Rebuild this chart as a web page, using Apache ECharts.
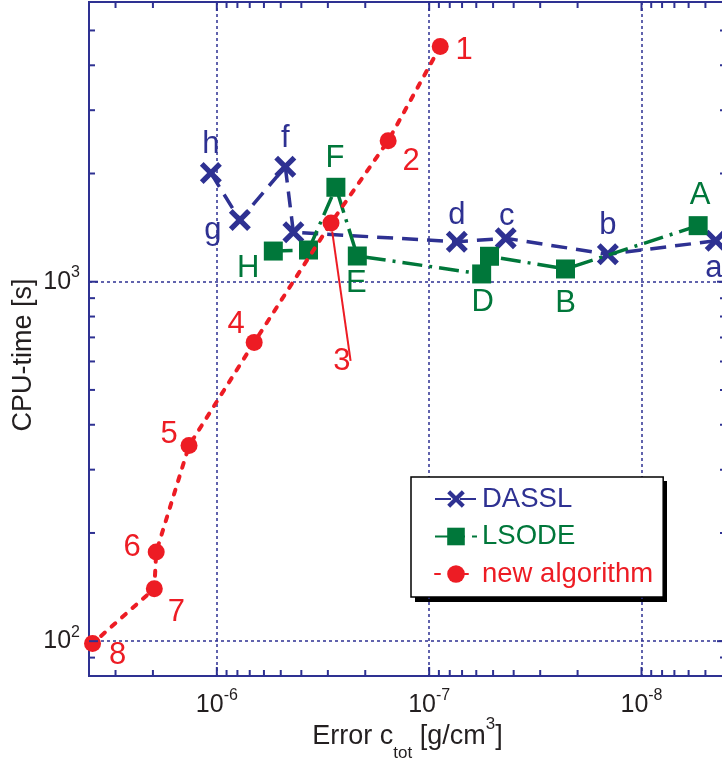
<!DOCTYPE html>
<html>
<head>
<meta charset="utf-8">
<script src="https://cdn.jsdelivr.net/npm/echarts@6/dist/echarts.min.js"></script>
<style>
  html, body { margin: 0; padding: 0; background: #fff; }
  #chart { width: 722px; height: 762px; }
</style>
</head>
<body>
<div id="chart"></div>
<script>
// DASSL, points a..h
const dasslErr = [4.47e-9, 1.44e-8, 4.36e-8, 7.41e-8, 4.36e-7, 4.76e-7, 7.79e-7, 1.067e-6];
const dasslCpu = [1300, 1192, 1321, 1292, 1372, 2089, 1485, 2006];
const dasslNames = ['a', 'b', 'c', 'd', '', 'f', 'g', 'h'];

// LSODE, points A..H
const lsodeErr = [5.41e-9, 2.28e-8, 5.20e-8, 5.66e-8, 2.18e-7, 2.75e-7, 3.70e-7, 5.42e-7];
const lsodeCpu = [1432, 1085, 1177, 1051, 1179, 1831, 1225, 1217];
const lsodeNames = ['A', 'B', '', 'D', 'E', 'F', '', 'H'];

// new algorithm, points 1..8
const newErr = [8.87e-8, 1.56e-7, 2.90e-7, 6.67e-7, 1.352e-6, 1.93e-6, 1.97e-6, 3.85e-6];
const newCpu = [4510, 2466, 1457, 678, 350, 177, 140, 98.5];
const newNames = ['1', '2', '3', '4', '5', '6', '7', '8'];

// axis ticks
const xMajorTicks = [1e-8, 1e-7, 1e-6];
const xMinorTicks = [5e-9, 6e-9, 7e-9, 8e-9, 9e-9,
  2e-8, 3e-8, 4e-8, 5e-8, 6e-8, 7e-8, 8e-8, 9e-8,
  2e-7, 3e-7, 4e-7, 5e-7, 6e-7, 7e-7, 8e-7, 9e-7,
  2e-6, 3e-6];
const yMajorTicks = [100, 1000];
const yMinorTicks = [90, 200, 300, 400, 500, 600, 700, 800, 900, 2000, 3000, 4000, 5000];

// label placement (offset from the point, px)
const dasslLabelOffsets = [[-2, 28], [0, -29], [1, -22], [0, -26], [0, 0], [0, -28], [-27, 10], [0, -29]];
const lsodeLabelOffsets = [[2, -30], [0, 34], [0, 0], [1, 29], [-1, 27], [-1, -29], [0, 0], [-25, 17]];
const newLabelOffsets = [[24, 4], [23, 21], [11, 138], [-18, -18], [-20, -11], [-24, -5], [22, 24], [25, 12]];

const BLUE = '#2e3192';
const GREEN = '#00773a';
const RED = '#ed1c24';
const TEXT = '#231f20';
const FONT = '"Liberation Sans", Arial, Helvetica, sans-serif';
const X_PATH = 'path://M1.7,0 L5,3.3 L8.3,0 L10,1.7 L6.7,5 L10,8.3 L8.3,10 L5,6.7 L1.7,10 L0,8.3 L3.3,5 L0,1.7 Z';

function pointData (errs, cpus, names, offsets, color) {
  return errs.map((e, i) => ({
    value: [e, cpus[i]],
    label: {
      show: names[i] !== '',
      formatter: names[i],
      position: 'inside',
      offset: offsets[i],
      color: color,
      fontSize: 31,
      fontFamily: FONT
    }
  }))
}

function powLabel (value) {
  const l = Math.log10(value)
  const e = Math.round(l)
  if (Math.abs(l - e) > 1e-6) return ''
  return '{b|10}{s|' + e + '}'
}

const tickRich = {
  b: { fontSize: 25, fontFamily: FONT, color: TEXT },
  s: { fontSize: 16, fontFamily: FONT, color: TEXT, padding: [0, 0, 18, 0] }
}

function xTick (params, api) {
  const cs = params.coordSys
  const x = api.coord([api.value(0), 1000])[0]
  const len = api.value(2)
  const style = { stroke: BLUE, lineWidth: 2 }
  return {
    type: 'group',
    children: [
      { type: 'line', shape: { x1: x, y1: cs.y + cs.height, x2: x, y2: cs.y + cs.height - len }, style },
      { type: 'line', shape: { x1: x, y1: cs.y, x2: x, y2: cs.y + len }, style }
    ]
  }
}

function yTick (params, api) {
  const cs = params.coordSys
  const y = api.coord([1e-7, api.value(1)])[1]
  const len = api.value(2)
  const style = { stroke: BLUE, lineWidth: 2 }
  return {
    type: 'group',
    children: [
      { type: 'line', shape: { x1: cs.x, y1: y, x2: cs.x + len, y2: y }, style },
      { type: 'line', shape: { x1: cs.x + cs.width, y1: y, x2: cs.x + cs.width - len, y2: y }, style }
    ]
  }
}

const chart = echarts.init(document.getElementById('chart'))

const newPoints = pointData(newErr, newCpu, newNames, newLabelOffsets, RED)
newPoints[2].labelLine = { show: true, lineStyle: { color: RED, width: 2 } }

const option = {
  animation: false,
  grid: {
    left: 89, right: -4, top: 2, bottom: 86,
    outerBoundsMode: 'none',
    show: true, borderColor: BLUE, borderWidth: 2, backgroundColor: 'transparent'
  },
  // hard black shadow behind the legend box
  graphic: [{
    type: 'rect', left: 415, top: 481, z: 0,
    shape: { width: 252, height: 121 },
    style: { fill: '#000' }
  }],
  legend: {
    left: 411, top: 477,
    orient: 'vertical',
    data: [
      { name: 'DASSL', textStyle: { color: BLUE } },
      { name: 'LSODE', textStyle: { color: GREEN } },
      { name: 'new algorithm', textStyle: { color: RED } }
    ],
    itemWidth: 42, itemHeight: 22, itemGap: 9.5,
    padding: [8, 10, 9, 23],
    backgroundColor: '#fff', borderColor: '#000', borderWidth: 1.5,
    textStyle: { fontSize: 27.5, fontFamily: FONT }
  },
  xAxis: {
    type: 'log', logBase: 10, min: 4e-9, max: 4e-6, inverse: true,
    axisLine: { show: false }, axisTick: { show: false },
    splitLine: { show: true, showMinLine: false, showMaxLine: false, lineStyle: { color: BLUE, width: 1.5, type: [3, 3] } },
    axisLabel: { formatter: powLabel, margin: 12, rich: tickRich, showMinLabel: false, showMaxLabel: false },
    name: '{n|Error c}{sub|tot}{n| [g/cm}{sup|3}{n|]}',
    nameLocation: 'middle', nameGap: 61, nameMoveOverlap: false,
    nameTextStyle: {
      verticalAlign: 'middle',
      rich: {
        n: { fontSize: 27, fontFamily: FONT, color: TEXT, verticalAlign: 'middle' },
        sub: { fontSize: 17, fontFamily: FONT, color: TEXT, verticalAlign: 'middle', padding: [32, 0, 0, 0] },
        sup: { fontSize: 17, fontFamily: FONT, color: TEXT, verticalAlign: 'middle', padding: [0, 0, 26, 0] }
      }
    }
  },
  yAxis: {
    type: 'log', logBase: 10, min: 80, max: 6000,
    axisLine: { show: false }, axisTick: { show: false },
    splitLine: { show: true, showMinLine: false, showMaxLine: false, lineStyle: { color: BLUE, width: 1.5, type: [3, 3] } },
    axisLabel: { formatter: powLabel, margin: 9, rich: tickRich, showMinLabel: false, showMaxLabel: false },
    name: 'CPU-time [s]',
    nameLocation: 'middle', nameGap: 65, nameMoveOverlap: false,
    nameTextStyle: { fontSize: 27, fontFamily: FONT, color: TEXT, verticalAlign: 'middle', padding: [0, 32, 0, 0] }
  },
  series: [
    {
      name: 'DASSL', type: 'line', z: 3,
      data: pointData(dasslErr, dasslCpu, dasslNames, dasslLabelOffsets, BLUE),
      symbol: X_PATH, symbolSize: 22,
      lineStyle: { color: BLUE, width: 3.5, type: [16, 9] },
      itemStyle: { color: BLUE }
    },
    {
      name: 'LSODE', type: 'line', z: 4,
      data: pointData(lsodeErr, lsodeCpu, lsodeNames, lsodeLabelOffsets, GREEN),
      symbol: 'rect', symbolSize: 19,
      lineStyle: { color: GREEN, width: 3.5, type: [20, 7, 3, 7] },
      itemStyle: { color: GREEN }
    },
    {
      name: 'new algorithm', type: 'line', z: 5,
      data: newPoints,
      symbol: 'circle', symbolSize: 17,
      lineStyle: { color: RED, width: 4, type: [5, 9], cap: 'round' },
      itemStyle: { color: RED }
    },
    {
      type: 'custom', silent: true, clip: false, z: 6,
      renderItem: xTick,
      data: xMinorTicks.map(v => [v, 1000, 6]).concat(xMajorTicks.map(v => [v, 1000, 9]))
    },
    {
      type: 'custom', silent: true, clip: false, z: 6,
      renderItem: yTick,
      data: yMinorTicks.map(v => [1e-7, v, 6]).concat(yMajorTicks.map(v => [1e-7, v, 9]))
    }
  ]
}

chart.setOption(option)
</script>
</body>
</html>
